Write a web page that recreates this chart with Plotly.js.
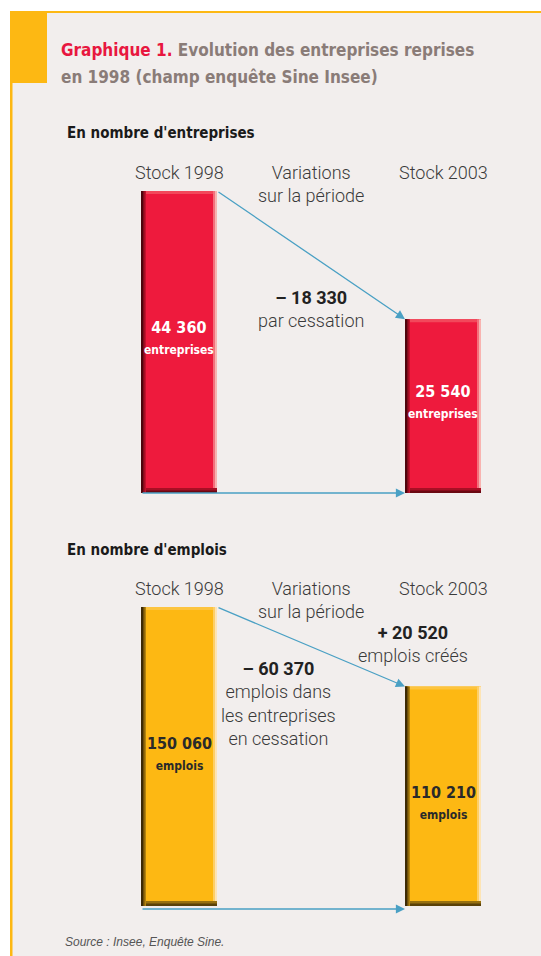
<!DOCTYPE html>
<html><head><meta charset="utf-8">
<script src="https://cdn.plot.ly/plotly-3.0.1.min.js"></script>
<style>html,body{margin:0;padding:0;background:#fff}#chart{width:541px;height:956px}</style>
</head><body><div id="chart"></div>
<script>
// ---- data ----
const stockLabels = ["Stock 1998", "Stock 2003"];
const entValues = [44360, 25540];
const entUnit = "entreprises";
const entVariation = [-18330];
const entVariationLabel = ["par cessation"];
const empValues = [150060, 110210];
const empUnit = "emplois";
const empVariations = [-60370, 20520];
const empVariationLabels = ["emplois dans<br>les entreprises<br>en cessation", "emplois créés"];
const middleHeader = "Variations<br>sur la période";
const titleLine1 = "<span style='color:#e8173f'>Graphique 1.</span> Evolution des entreprises reprises";
const titleLine2 = "en 1998 (champ enquête Sine Insee)";

// ---- layout helpers ----
const W = 541, H = 956;
const X = p => p / W, Y = p => 1 - p / H;
const pxPerUnitX = 264;              // pixels between the two bar centres
const x0px = 179;                    // centre of first bar
const bw = 76 / pxPerUnitX;          // bar width in x units
const px = n => n / pxPerUnitX;
const xr = [-x0px / pxPerUnitX, (W - x0px) / pxPerUnitX];
const xs = [0, 1];

const fmt = v => Math.abs(v).toString().replace(/\B(?=(\d{3})+(?!\d))/g, " ");
const fmtSigned = v => (v < 0 ? "– " : "+ ") + fmt(v);

const RED = "#ee1a3d", YEL = "#fdb813", ARROW = "#4aa0c4";
const LIGHT = "Roboto, 'Open Sans', sans-serif";
const COND = "'Liberation Sans Narrow', 'DejaVu Sans Condensed', 'Liberation Sans', sans-serif";

// axis domains (pixels)
const topDom = [493, 150], botDom = [906, 570];
const topMax = entValues[0] * (topDom[0] - topDom[1]) / 302;
const botMax = empValues[0] * (botDom[0] - botDom[1]) / 299;
const topU = topMax / (topDom[0] - topDom[1]);   // data units per pixel
const botU = botMax / (botDom[0] - botDom[1]);

function barSet(vals, xa, ya, u, c) {
  const base = {type: "bar", x: xs, xaxis: xa, yaxis: ya, hoverinfo: "skip", showlegend: false};
  const mk = (col) => ({color: col, line: {width: 0}});
  const full = (w, off, col) => Object.assign({}, base, {y: vals, width: w, offset: off, marker: mk(col)});
  return [
    full(bw, -bw / 2, c.main),
    // top light band
    Object.assign({}, base, {y: vals.map(() => 3 * u), base: vals.map(v => v - 3 * u), width: bw, offset: -bw / 2, marker: mk(c.top)}),
    // right light edge
    full(px(2), bw / 2 - px(4), c.r1),
    full(px(2), bw / 2 - px(2), c.r2),
    // bottom shadow
    Object.assign({}, base, {y: vals.map(() => 5 * u), base: 0, width: bw, offset: -bw / 2, marker: mk(c.b2)}),
    Object.assign({}, base, {y: vals.map(() => 2.5 * u), base: 0, width: bw, offset: -bw / 2, marker: mk(c.b1)}),
    // left dark edge
    full(px(5), -bw / 2, c.l3),
    full(px(3.5), -bw / 2, c.l2),
    full(px(2), -bw / 2, c.l1)
  ];
}

const traces = [
  ...barSet(entValues, "x", "y", topU, {main: RED, top: "#f2485b", r1: "#f3707c", r2: "#f8b3b0",
    b1: "#6a0812", b2: "#a80f25", l1: "#4e050d", l2: "#820b1b", l3: "#c0122c"}),
  ...barSet(empValues, "x2", "y2", botU, {main: YEL, top: "#fdc43f", r1: "#fdcf68", r2: "#fde4b5",
    b1: "#5a4108", b2: "#977010", l1: "#3d2a05", l2: "#6e4f09", l3: "#b2830f"})
];

const hidden = {visible: false, fixedrange: true};

const ann = [];
function txt(x, y, text, opts) {
  ann.push(Object.assign({xref: "paper", yref: "paper", x: X(x), y: Y(y), text: text, showarrow: false,
    xanchor: "center", yanchor: "middle",
    font: {family: LIGHT, size: 18, color: "#3a3a3a", weight: 300}}, opts || {}));
}
// title
const titleFont = {family: COND, size: 17, color: "#8a7c78", weight: 700};
txt(59, 50, titleLine1, {xanchor: "left", align: "left", font: titleFont});
txt(59, 77, titleLine2, {xanchor: "left", align: "left", font: titleFont});
// section headings
txt(65, 133, "En nombre d'entreprises", {xanchor: "left", font: {family: COND, size: 15, color: "#1a1a1a", weight: 700}});
txt(65, 550, "En nombre d'emplois", {xanchor: "left", font: {family: COND, size: 15, color: "#1a1a1a", weight: 700}});
// column headers
[[173, 196], [588, 611]].forEach(r => {
  txt(179, r[0], stockLabels[0]);
  txt(443, r[0], stockLabels[1]);
  txt(311, (r[0] + r[1]) / 2, middleHeader);
});
// variation labels
txt(311, 309, "<b style='color:#222'>" + fmtSigned(entVariation[0]) + "</b><br>" + entVariationLabel[0]);
txt(278, 703, "<b style='color:#222'>" + fmtSigned(empVariations[0]) + "</b><br>" + empVariationLabels[0]);
txt(413, 644, "<b style='color:#222'>" + fmtSigned(empVariations[1]) + "</b><br>" + empVariationLabels[1]);
// source
txt(63, 942, "<i>Source : Insee, Enquête Sine.</i>", {xanchor: "left", font: {family: "'Liberation Sans', Arial, sans-serif", size: 12, color: "#555"}});

// value labels inside bars
const entShift = [5, 5], empShift = [3, -6];
entValues.forEach((v, i) => ann.push({xref: "x", yref: "y", x: xs[i], y: v / 2, yshift: entShift[i], showarrow: false,
  text: "<b>" + fmt(v) + "</b><br><b style='font-size:12px'>" + entUnit + "</b>",
  font: {family: COND, size: 16, color: "#ffffff"}}));
empValues.forEach((v, i) => ann.push({xref: "x2", yref: "y2", x: xs[i], y: v / 2, yshift: empShift[i], showarrow: false,
  text: "<b>" + fmt(v) + "</b><br><b style='font-size:12px'>" + empUnit + "</b>",
  font: {family: COND, size: 16, color: "#2a2a2a"}}));

// arrows
function arrow(xa, ya, xt, yt, xh, yh, ys) {
  ann.push({xref: xa, yref: ya, axref: xa, ayref: ya, x: xh, y: yh, ax: xt, ay: yt, text: "", yshift: ys || 0,
    showarrow: true, arrowhead: 2, arrowsize: 1.4, arrowwidth: 1.3, arrowcolor: ARROW, standoff: 0, startstandoff: 0});
}
arrow("x", "y", bw / 2, entValues[0], 1 - bw / 2, entValues[1]);
arrow("x", "y", -bw / 2, 0, 1 - bw / 2, 0);
arrow("x2", "y2", bw / 2, empValues[0], 1 - bw / 2, empValues[1]);
arrow("x2", "y2", -bw / 2, 0, 1 - bw / 2, 0, -3);

const shapes = [
  {type: "rect", xref: "paper", yref: "paper", x0: X(10), x1: X(541), y0: Y(956), y1: Y(11), fillcolor: "#f2eeed", line: {width: 0}, layer: "below"},
  {type: "rect", xref: "paper", yref: "paper", x0: X(10), x1: X(541), y0: Y(13), y1: Y(11), fillcolor: YEL, line: {width: 0}, layer: "below"},
  {type: "rect", xref: "paper", yref: "paper", x0: X(10), x1: X(12.5), y0: Y(956), y1: Y(11), fillcolor: YEL, line: {width: 0}, layer: "below"},
  {type: "rect", xref: "paper", yref: "paper", x0: X(10), x1: X(47), y0: Y(83), y1: Y(11), fillcolor: YEL, line: {width: 0}, layer: "below"}
];

const layout = {
  width: W, height: H, margin: {l: 0, r: 0, t: 0, b: 0},
  paper_bgcolor: "#ffffff", plot_bgcolor: "rgba(0,0,0,0)",
  barmode: "overlay", showlegend: false,
  xaxis: Object.assign({domain: [0, 1], range: xr, anchor: "y"}, hidden),
  yaxis: Object.assign({domain: [Y(topDom[0]), Y(topDom[1])], range: [0, topMax], anchor: "x"}, hidden),
  xaxis2: Object.assign({domain: [0, 1], range: xr, anchor: "y2"}, hidden),
  yaxis2: Object.assign({domain: [Y(botDom[0]), Y(botDom[1])], range: [0, botMax], anchor: "x2"}, hidden),
  annotations: ann, shapes: shapes
};
Plotly.newPlot("chart", traces, layout, {staticPlot: true, displayModeBar: false});
</script></body></html>
